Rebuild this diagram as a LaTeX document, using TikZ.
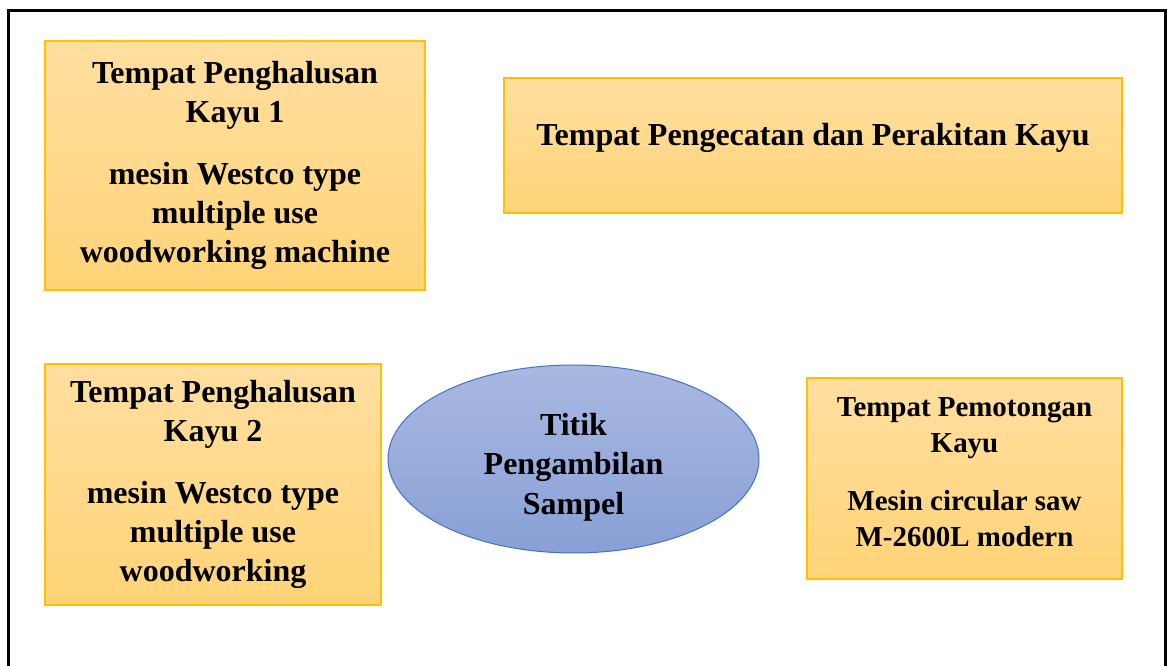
\documentclass[tikz,border=0pt]{standalone}
\usepackage{fontspec}
\setmainfont{Liberation Serif}
\usetikzlibrary{shapes.geometric}

\definecolor{bagtop}{RGB}{255,222,160}
\definecolor{bagbot}{RGB}{255,212,120}
\definecolor{bagline}{RGB}{255,192,0}
\definecolor{titiktop}{RGB}{170,184,225}
\definecolor{titikbot}{RGB}{136,160,214}
\definecolor{titikline}{RGB}{68,114,196}

\tikzset{
  bag/.style={rectangle, draw=bagline, line width=0.9pt, top color=bagtop,
    bottom color=bagbot, align=center, inner sep=0pt},
  bigtxt/.style={font=\fontsize{24}{29.5}\selectfont\bfseries, align=center},
  smalltxt/.style={font=\fontsize{21.7}{27}\selectfont\bfseries, align=center}
}

\begin{document}
\begin{tikzpicture}[x=0.75pt, y=-0.75pt]
  \useasboundingbox (0,0) rectangle (1168,666);

  %% ---------- frame (bottom edge runs off the page) ----------
  \draw[line width=2.25pt] (8.5,700) -- (8.5,10.5) -- (1165.5,10.5) -- (1165.5,700);

  %% ---------- upper row ----------
  \node[bag, bigtxt, minimum width=285pt, minimum height=186.75pt] (halus1) at (235,165.5)
    {Tempat Penghalusan\\Kayu 1\\[16.5pt]mesin Westco type\\multiple use\\woodworking machine};
  \node[bag, minimum width=463.5pt, minimum height=101.25pt] (cat) at (813,145.5) {};
  \node[bigtxt] (cattxt) at (813,137.5) {Tempat Pengecatan dan Perakitan Kayu};

  %% ---------- lower row ----------
  \node[bag, bigtxt, minimum width=252pt, minimum height=180.75pt] (halus2) at (213,484.5)
    {Tempat Penghalusan\\Kayu 2\\[16.5pt]mesin Westco type\\multiple use\\woodworking};
  \node[ellipse, draw=titikline, line width=0.75pt, top color=titiktop, bottom color=titikbot,
    minimum width=278.25pt, minimum height=141pt, inner sep=0pt] (titik) at (573.5,459) {};
  \node[bigtxt] (titiktxt) at (573.5,467) {Titik\\Pengambilan\\Sampel};
  \node[bag, minimum width=236.25pt, minimum height=150.75pt] (potong) at (964.5,478.5) {};
  \node[smalltxt] (potongtxt) at (964.5,472)
    {Tempat Pemotongan\\Kayu\\[16.5pt]Mesin circular saw\\M-2600L modern};
\end{tikzpicture}
\end{document}
